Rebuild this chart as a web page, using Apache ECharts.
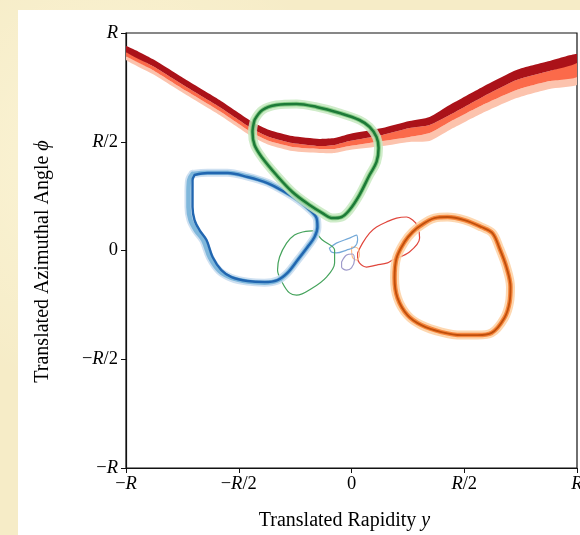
<!DOCTYPE html>
<html>
<head>
<meta charset="utf-8">
<script src="https://cdn.jsdelivr.net/npm/echarts@6/dist/echarts.min.js"></script>
<style>
html,body{margin:0;padding:0;width:580px;height:535px;overflow:hidden;background:#f6ecc7;}
#bg{position:absolute;left:0;top:0;width:580px;height:535px;
 background:
  radial-gradient(circle at 20% 30%, rgba(255,250,225,0.6) 0, rgba(255,250,225,0) 40%),
  radial-gradient(circle at 80% 70%, rgba(240,225,180,0.5) 0, rgba(240,225,180,0) 45%),
  #f6ecc7;}
#panel{position:absolute;left:18px;top:10px;width:562px;height:525px;background:#ffffff;}
#chart{position:absolute;left:0;top:0;width:580px;height:535px;}
</style>
</head>
<body>
<div id="bg"></div>
<div id="panel"></div>
<div id="chart"></div>
<script>
// ---- tick marks (in units of R) ----
const tickValues = [-1, -0.5, 0, 0.5, 1];
const tickLabels = ['\u2212R', '\u2212R/2', '0', 'R/2', 'R'];

// ---- red band (ensemble of curves spanning the full rapidity range) ----
const redX          = [-1.0,-0.882,-0.732,-0.585,-0.439,-0.364,-0.262,-0.142,-0.075,-0.009,0.137,0.257,0.346,0.435,0.581,0.732,0.878,1.0];
const redDarkTop    = [0.940,0.880,0.784,0.692,0.591,0.554,0.526,0.513,0.517,0.536,0.563,0.595,0.614,0.669,0.752,0.830,0.871,0.903];
const redEdge1      = [0.913,0.848,0.752,0.660,0.559,0.522,0.494,0.480,0.485,0.503,0.531,0.563,0.577,0.623,0.706,0.784,0.825,0.862];
const redEdge2      = [0.894,0.830,0.733,0.641,0.540,0.503,0.476,0.467,0.467,0.480,0.503,0.522,0.540,0.591,0.669,0.738,0.779,0.798];
const redLightBottom= [0.876,0.811,0.715,0.623,0.522,0.485,0.457,0.448,0.448,0.462,0.480,0.499,0.503,0.554,0.632,0.701,0.743,0.761];

// ---- closed loops [y, phi] ----
const greenLoop = [[-0.430,0.600],[-0.395,0.646],[-0.333,0.669],[-0.244,0.674],[-0.155,0.660],[-0.053,0.632],[0.035,0.600],[0.080,0.568],[0.111,0.522],[0.120,0.471],[0.111,0.407],[0.080,0.347],[0.035,0.255],[-0.009,0.186],[-0.044,0.154],[-0.084,0.149],[-0.129,0.172],[-0.186,0.209],[-0.262,0.269],[-0.333,0.347],[-0.395,0.425],[-0.430,0.485],[-0.439,0.545]];
const blueLoop = [[-0.696,0.347],[-0.639,0.356],[-0.550,0.356],[-0.461,0.338],[-0.373,0.310],[-0.297,0.269],[-0.239,0.232],[-0.195,0.195],[-0.155,0.149],[-0.151,0.108],[-0.164,0.062],[-0.195,0.016],[-0.239,-0.044],[-0.284,-0.103],[-0.328,-0.136],[-0.386,-0.145],[-0.461,-0.140],[-0.532,-0.122],[-0.577,-0.090],[-0.616,-0.030],[-0.643,0.048],[-0.674,0.094],[-0.696,0.140],[-0.705,0.200],[-0.705,0.264],[-0.705,0.324]];
const blueLoopOuter = [[-0.705,0.352],[-0.639,0.358],[-0.550,0.358],[-0.461,0.340],[-0.373,0.312],[-0.297,0.271],[-0.239,0.234],[-0.195,0.197],[-0.155,0.149],[-0.151,0.108],[-0.164,0.062],[-0.195,0.016],[-0.239,-0.044],[-0.284,-0.103],[-0.328,-0.138],[-0.386,-0.148],[-0.461,-0.143],[-0.532,-0.126],[-0.585,-0.095],[-0.628,-0.032],[-0.657,0.046],[-0.690,0.092],[-0.714,0.140],[-0.723,0.200],[-0.723,0.264],[-0.720,0.324]];
const orangeLoop = [[0.310,0.117],[0.368,0.149],[0.426,0.154],[0.501,0.140],[0.576,0.108],[0.625,0.080],[0.656,0.011],[0.687,-0.076],[0.705,-0.168],[0.701,-0.237],[0.678,-0.310],[0.621,-0.379],[0.559,-0.389],[0.488,-0.389],[0.399,-0.375],[0.310,-0.343],[0.248,-0.297],[0.204,-0.218],[0.191,-0.126],[0.200,-0.034],[0.235,0.039],[0.271,0.085]];
const thinGreenLoop = [[-0.217,0.085],[-0.173,0.090],[-0.129,0.048],[-0.075,0.002],[-0.075,-0.057],[-0.111,-0.122],[-0.173,-0.172],[-0.244,-0.205],[-0.275,-0.195],[-0.306,-0.149],[-0.328,-0.090],[-0.319,-0.030],[-0.288,0.034],[-0.253,0.071]];
const thinBlueLoop = [[-0.098,0.011],[-0.067,0.034],[-0.009,0.057],[0.022,0.071],[0.027,0.048],[0.013,0.016],[-0.022,0.002],[-0.067,-0.011],[-0.089,-0.007]];
const purpleLoop = [[-0.044,-0.053],[-0.022,-0.021],[0.004,-0.016],[0.013,-0.044],[0.000,-0.080],[-0.022,-0.090],[-0.044,-0.076]];
const paleOrangeLoop = [[0.000,0.016],[0.027,0.011],[0.035,-0.021],[0.022,-0.044],[0.004,-0.030]];
const thinRedLoop = [[0.027,-0.011],[0.049,0.034],[0.080,0.080],[0.111,0.108],[0.155,0.131],[0.200,0.149],[0.244,0.154],[0.271,0.140],[0.293,0.113],[0.302,0.057],[0.257,-0.007],[0.182,-0.044],[0.160,-0.057],[0.111,-0.067],[0.067,-0.076],[0.035,-0.057],[0.027,-0.030]];

const closeLoop = a => a.concat([a[0]]);
const tickText = v => {
  const i = tickValues.findIndex(t => Math.abs(t - v) < 1e-9);
  if (i < 0) return '';
  return tickLabels[i].replace('R', '{i|R}');
};

function band(top, bottom, color, z) {
  return {
    type: 'custom', silent: true, clip: true, z: z,
    data: [[0, 0]],
    renderItem: function (params, api) {
      const pts = [];
      for (let k = 0; k < redX.length; k++) pts.push(api.coord([redX[k], top[k]]));
      for (let k = redX.length - 1; k >= 0; k--) pts.push(api.coord([redX[k], bottom[k]]));
      return { type: 'polygon', shape: { points: pts, smooth: 0.2 }, style: { fill: color } };
    }
  };
}
function loop(data, color, width, opacity, z) {
  return {
    type: 'line', data: closeLoop(data), symbol: 'none', showSymbol: false,
    smooth: 0.35, silent: true, z: z, animation: false,
    lineStyle: { color: color, width: width, opacity: opacity, cap: 'round', join: 'round' }
  };
}

const serif = 'Liberation Serif';
const tickFont = 18.5;
const nameFont = 20;
const richTick = { i: { fontStyle: 'italic', fontFamily: serif, fontSize: tickFont, color: '#000' } };
const richName = { i: { fontStyle: 'italic', fontFamily: serif, fontSize: nameFont, color: '#000' } };

const chart = echarts.init(document.getElementById('chart'), null, { renderer: 'canvas' });
chart.setOption({
  animation: false,
  backgroundColor: 'transparent',
  grid: { left: 126, top: 33, width: 451, height: 435, containLabel: false, outerBoundsMode: 'none',
          show: true, borderColor: '#111', borderWidth: 1.2, backgroundColor: 'transparent' },
  xAxis: {
    type: 'value', min: -1, max: 1, interval: 0.5,
    splitLine: { show: false },
    axisLine: { show: true, onZero: false, lineStyle: { color: '#111', width: 1.2 } },
    axisTick: { show: true, inside: false, length: 5, lineStyle: { color: '#111', width: 1 } },
    axisLabel: { formatter: tickText, rich: richTick, fontFamily: serif, fontSize: tickFont, color: '#000', margin: 7, showMaxLabel: true, showMinLabel: true, hideOverlap: false },
    name: 'Translated Rapidity {i|y}', nameLocation: 'middle', nameGap: 43,
    nameTextStyle: { fontFamily: serif, fontSize: nameFont, color: '#000', rich: richName, padding: [0, 14, 0, 0] }
  },
  yAxis: {
    type: 'value', min: -1, max: 1, interval: 0.5,
    splitLine: { show: false },
    axisLine: { show: true, onZero: false, lineStyle: { color: '#111', width: 1.2 } },
    axisTick: { show: true, inside: false, length: 5, lineStyle: { color: '#111', width: 1 } },
    axisLabel: { formatter: tickText, rich: richTick, fontFamily: serif, fontSize: tickFont, color: '#000', margin: 8, showMaxLabel: true, showMinLabel: true, hideOverlap: false },
    name: 'Translated Azimuthal Angle {i|\u03d5}', nameLocation: 'middle', nameGap: 73,
    nameTextStyle: { fontFamily: serif, fontSize: nameFont, color: '#000', rich: richName, padding: [0, 22, 0, 0] }
  },
  series: [
    band(redEdge2, redLightBottom, '#fcc3ad', 2),
    band(redEdge1, redEdge2, '#fb6a4a', 3),
    band(redDarkTop, redEdge1, '#ab1219', 4),

    loop(thinRedLoop, '#e0463c', 1.2, 1, 5),
    loop(paleOrangeLoop, '#fdbb84', 1.1, 1, 5),
    loop(purpleLoop, '#9f9bcb', 1.2, 1, 5),
    loop(thinBlueLoop, '#74a9d8', 1.2, 1, 5),
    loop(thinGreenLoop, '#45a35c', 1.2, 1, 5),

    loop(blueLoopOuter, '#c6dbef', 8, 0.85, 6),
    loop(blueLoopOuter, '#6baed6', 4.5, 0.8, 6),
    loop(blueLoop, '#2166b0', 2.4, 1, 7),

    loop(greenLoop, '#c7e9c0', 9, 0.85, 8),
    loop(greenLoop, '#74c476', 4.5, 0.8, 8),
    loop(greenLoop, '#1d7a38', 2.5, 1, 9),

    loop(orangeLoop, '#fdd0a2', 9, 0.85, 10),
    loop(orangeLoop, '#f47a2a', 4.5, 0.85, 10),
    loop(orangeLoop, '#c04f0c', 1.9, 1, 11)
  ]
});
</script>
</body>
</html>
